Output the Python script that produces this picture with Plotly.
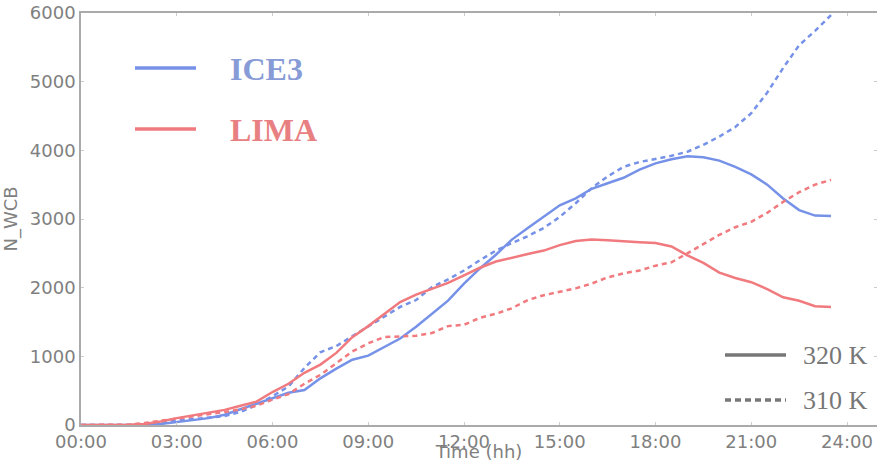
import plotly.graph_objects as go

hours = [i * 0.5 for i in range(48)]  # 0.0 .. 23.5 h

ice3_320 = [0, 0, 0, 0, 5, 15, 40, 70, 100, 150, 230, 300, 390, 470, 510, 680,
            820, 950, 1010, 1130, 1260, 1430, 1620, 1810, 2060, 2280, 2480, 2700,
            2870, 3040, 3200, 3300, 3440, 3520, 3600, 3720, 3810, 3870, 3915, 3900,
            3850, 3760, 3650, 3500, 3300, 3130, 3050, 3045]
ice3_310 = [0, 0, 0, 0, 20, 40, 60, 80, 100, 130, 190, 290, 420, 560, 830, 1060,
            1150, 1290, 1440, 1580, 1720, 1820, 2010, 2120, 2250, 2400, 2540, 2650,
            2750, 2870, 3030, 3230, 3450, 3620, 3760, 3830, 3870, 3920, 3980, 4080,
            4200, 4340, 4540, 4840, 5200, 5530, 5740, 5970]
lima_320 = [0, 0, 0, 2, 15, 50, 100, 140, 170, 220, 280, 340, 480, 600, 760, 880,
            1050, 1280, 1440, 1610, 1790, 1900, 1980, 2070, 2180, 2290, 2380, 2440,
            2490, 2540, 2620, 2680, 2700, 2690, 2670, 2660, 2650, 2600, 2470, 2360,
            2220, 2140, 2080, 1980, 1860, 1810, 1730, 1720]
lima_310 = [0, 0, 0, 5, 30, 60, 90, 120, 150, 190, 230, 280, 370, 450, 600, 730,
            900, 1070, 1190, 1280, 1290, 1300, 1340, 1440, 1460, 1560, 1620, 1700,
            1820, 1890, 1940, 1990, 2060, 2150, 2210, 2250, 2320, 2370, 2500, 2640,
            2770, 2880, 2960, 3090, 3250, 3390, 3500, 3570]

x_tickvals = [0, 3, 6, 9, 12, 15, 18, 21, 24]
x_ticktext = ["00:00", "03:00", "06:00", "09:00", "12:00", "15:00", "18:00", "21:00", "24:00"]
y_tickvals = [0, 1000, 2000, 3000, 4000, 5000, 6000]

BLUE = "rgb(118,145,232)"
RED = "rgb(240,122,126)"
GRAY = "#808080"

fig = go.Figure()
series = [
    (ice3_320, BLUE, "solid"),
    (ice3_310, BLUE, "5px,4px"),
    (lima_320, RED, "solid"),
    (lima_310, RED, "5px,4px"),
]
for ys, col, dash in series:
    fig.add_trace(go.Scatter(x=hours, y=ys, mode="lines",
                             line=dict(color=col, width=2.5, dash=dash),
                             showlegend=False))

# legend drawn manually (paper coordinates)
W, H = 877, 462
ml, mr, mt, mb = 81, 0, 13, 37
pw, ph = W - ml - mr, H - mt - mb

def px(x):
    return (x - ml) / pw

def py(y):
    return (H - mb - y) / ph

shapes = []
annotations = []
legend_items = [
    (68, "ICE3", BLUE, "rgb(135,155,215)", "solid"),
    (129, "LIMA", RED, "rgb(232,128,130)", "solid"),
]
for y, name, lc, tc, dash in legend_items:
    shapes.append(dict(type="line", xref="paper", yref="paper",
                       x0=px(135), x1=px(196), y0=py(y), y1=py(y),
                       line=dict(color=lc, width=3.5, dash=dash)))
    annotations.append(dict(xref="paper", yref="paper", x=px(228), y=py(y + 1),
                            xanchor="left", yanchor="middle", showarrow=False,
                            text="<b>%s</b>" % name,
                            font=dict(family="Liberation Serif", size=32, color=tc)))
legend2 = [
    (355, "320 K", "solid"),
    (400, "310 K", "6px,4px"),
]
for y, name, dash in legend2:
    shapes.append(dict(type="line", xref="paper", yref="paper",
                       x0=px(725), x1=px(786), y0=py(y), y1=py(y),
                       line=dict(color="#777777", width=3.5, dash=dash)))
    annotations.append(dict(xref="paper", yref="paper", x=px(801), y=py(y),
                            xanchor="left", yanchor="middle", showarrow=False,
                            text=name,
                            font=dict(family="Liberation Serif", size=26, color="#777777")))

fig.update_layout(
    width=W, height=H,
    margin=dict(l=ml, r=mr, t=mt, b=mb),
    paper_bgcolor="white", plot_bgcolor="white",
    font=dict(family="DejaVu Sans", size=18, color=GRAY),
    shapes=shapes, annotations=annotations,
    showlegend=False,
)
fig.update_xaxes(range=[0, pw / ((847 - 81) / 24.0)], tickvals=x_tickvals, ticktext=x_ticktext,
                 showgrid=False, zeroline=False, showline=True, linecolor="#aaaaaa",
                 linewidth=1.5, mirror="ticks", ticks="inside", ticklen=3,
                 tickcolor="#cccccc", tickfont=dict(size=18, color=GRAY), automargin=False,
                 title=dict(text="Time (hh)", font=dict(size=18, color=GRAY), standoff=2))
fig.update_yaxes(range=[0, 6000], tickvals=y_tickvals, automargin=False,
                 showgrid=False, zeroline=False, showline=True, linecolor="#aaaaaa",
                 linewidth=1.5, mirror="ticks", ticks="inside", ticklen=3,
                 tickcolor="#cccccc", tickfont=dict(size=18, color=GRAY),
                 title=dict(text="N_WCB", font=dict(size=18, color=GRAY), standoff=8))

fig.write_html("out.html")
